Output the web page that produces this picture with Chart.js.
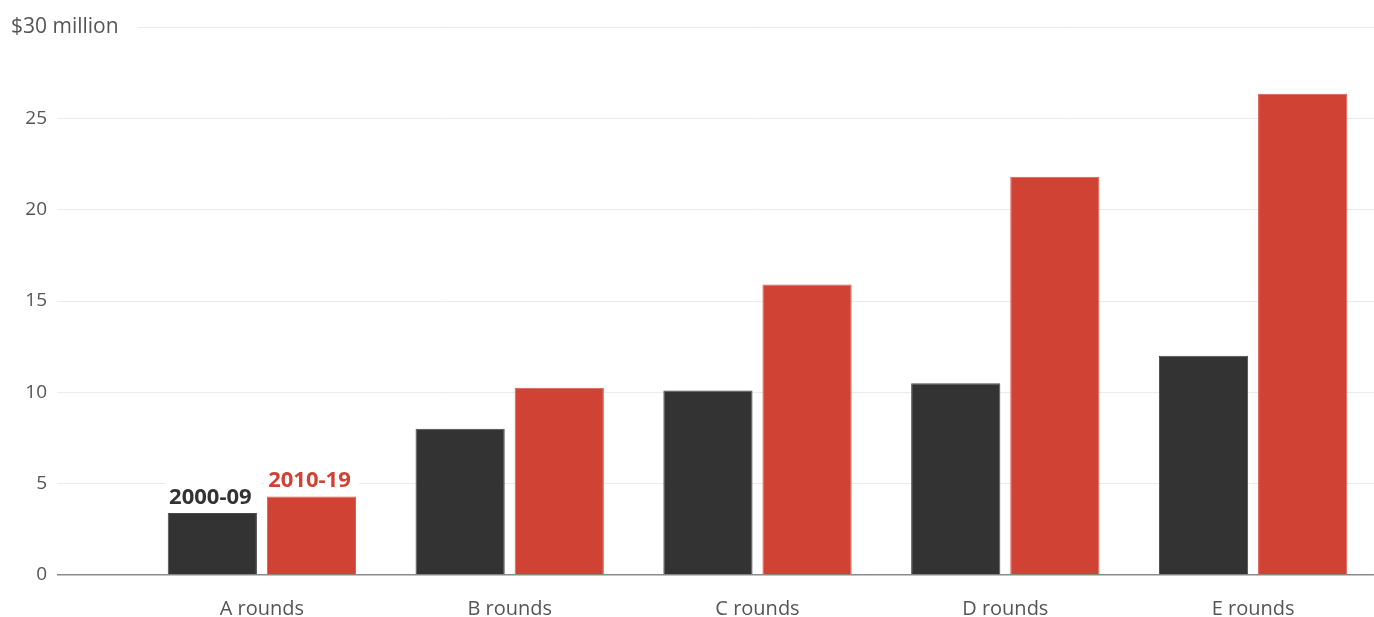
<!DOCTYPE html>
<html lang="en">
<head>
  <meta charset="UTF-8" />
  <title>Funding rounds</title>
  <script src="https://cdn.jsdelivr.net/npm/chart.js"></script>
  <style>
    html, body { margin: 0; padding: 0; background: #fff; overflow: hidden; }
    #wrap { width: 1377px; height: 617px; position: relative; }
  </style>
</head>
<body>
  <div id="wrap"><canvas id="roundsChart"></canvas></div>

  <script>
    const rounds = ['A rounds', 'B rounds', 'C rounds', 'D rounds', 'E rounds'];
    const decade2000s = [3.4, 8.0, 10.1, 10.5, 12.0];
    const decade2010s = [4.3, 10.25, 15.9, 21.8, 26.35];
    const seriesNames = ['2000-09', '2010-19'];
    const yTicks = [0, 5, 10, 15, 20, 25, 30];
    const topLabel = '$30 million';

    const DARK = '#333333';
    const RED = '#d04234';
    const FONT = '"Open Sans", Lato, sans-serif';

    // series names sit on top of the first pair of bars, with a white knock-out
    const barLabels = {
      id: 'barLabels',
      afterDatasetsDraw(chart) {
        const ctx = chart.ctx;
        ctx.save();
        ctx.font = 'bold 22px ' + FONT;
        ctx.textAlign = 'center';
        ctx.textBaseline = 'alphabetic';
        [DARK, RED].forEach((col, i) => {
          const bar = chart.getDatasetMeta(i).data[0];
          const w = ctx.measureText(seriesNames[i]).width;
          ctx.fillStyle = '#fff';
          ctx.fillRect(bar.x - w / 2 - 6, bar.y - 33, w + 12, 27);
          ctx.fillStyle = col;
          ctx.fillText(seriesNames[i], bar.x - 2, bar.y - 9);
        });
        // top tick label
        const y = chart.scales.y.getPixelForValue(30);
        ctx.font = '21px ' + FONT;
        ctx.textAlign = 'left';
        ctx.textBaseline = 'middle';
        ctx.fillStyle = '#555';
        ctx.fillText(topLabel, 11, y);
        ctx.restore();
      }
    };

    new Chart(document.getElementById('roundsChart'), {
      type: 'bar',
      data: {
        labels: rounds,
        datasets: [
          { label: seriesNames[0], data: decade2000s, backgroundColor: DARK,
            borderColor: '#4a4a4a', borderWidth: 1 },
          { label: seriesNames[1], data: decade2010s, backgroundColor: RED,
            borderColor: '#da5a4d', borderWidth: 1 }
        ]
      },
      options: {
        responsive: true,
        maintainAspectRatio: false,
        animation: false,
        categoryPercentage: 0.8,
        barPercentage: 0.9,
        layout: { padding: { top: 27, right: 0, bottom: 0, left: 0 } },
        plugins: { legend: { display: false }, tooltip: { enabled: false } },
        scales: {
          x: {
            afterFit(scale) { scale.height = 42; },
            grid: { display: false },
            border: { display: false },
            ticks: { color: '#555', font: { family: FONT, size: 20 }, padding: 14 }
          },
          y: {
            min: 0,
            max: 30,
            afterFit(scale) { scale.width = 138; },
            afterBuildTicks(scale) { scale.ticks = yTicks.map(v => ({ value: v })); },
            border: { display: false },
            grid: {
              tickLength: 81,
              color: c => c.tick && c.tick.value === 0 ? '#8a8a8a' : '#ebebeb',
              tickColor: c => c.tick && c.tick.value === 30 ? 'rgba(0,0,0,0)' :
                (c.tick && c.tick.value === 0 ? '#8a8a8a' : '#ebebeb'),
              lineWidth: c => c.tick && c.tick.value === 0 ? 1.5 : 1
            },
            ticks: {
              padding: 10,
              color: '#555',
              font: { family: FONT, size: 19 },
              callback: v => v === 30 ? '' : v
            }
          }
        }
      },
      plugins: [barLabels]
    });
  </script>
</body>
</html>
